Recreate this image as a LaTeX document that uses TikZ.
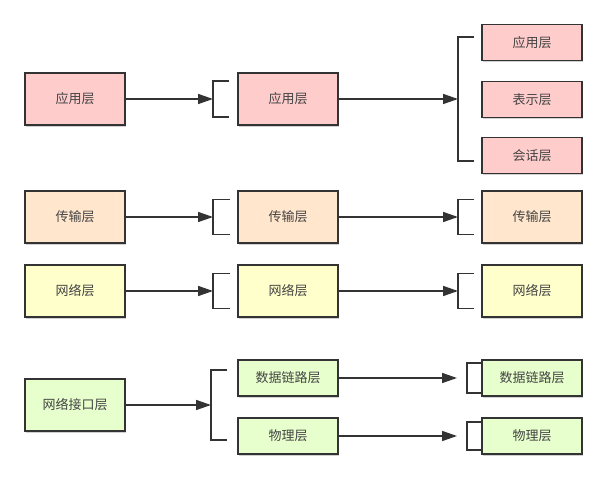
\documentclass[tikz,border=0pt]{standalone}
\usepackage{fontspec}
\newfontfamily\cjk{Noto Sans CJK SC}
\usetikzlibrary{arrows.meta,shadows}
\definecolor{ln}{HTML}{333333}
\definecolor{txt}{HTML}{444444}
\definecolor{cpink}{HTML}{FFCCCC}
\definecolor{cpeach}{HTML}{FFE6CC}
\definecolor{cyel}{HTML}{FFFFCC}
\definecolor{cgreen}{HTML}{E6FFCC}
\tikzset{
  box/.style={draw=ln, line width=1.5pt, minimum width=100pt, minimum height=52pt, inner sep=0pt,
    font=\cjk\fontsize{13}{15}\selectfont, text=txt,
    drop shadow={shadow xshift=0.8pt, shadow yshift=-1.8pt, fill=black, opacity=0.18}},
  sbox/.style={box, minimum height=36pt},
  arr/.style={draw=ln, line width=1.5pt, -{Triangle[length=15pt,width=10pt]}},
  brk/.style={draw=ln, line width=1.5pt}
}
\begin{document}
\begin{tikzpicture}[x=1pt,y=-1pt]
\useasboundingbox[fill=white] (0,0) rectangle (608,478);
% row 1
\node[box, fill=cpink] (L1) at (75,99) {应用层};
\node[box, fill=cpink] (M1) at (288,99) {应用层};
\node[sbox, fill=cpink] (R1a) at (532,42.5) {应用层};
\node[sbox, fill=cpink] (R1b) at (532,99.5) {表示层};
\node[sbox, fill=cpink] (R1c) at (532,155.5) {会话层};
\coordinate (k1) at (213,99);
\coordinate (k2) at (458,99);
\draw[brk] ([shift={(16,-18)}]k1) -| ([shift={(0,18)}]k1) -- ++(16,0);
\draw[brk] ([shift={(16,-62)}]k2) -| ([shift={(0,62)}]k2) -- ++(16,0);
\draw[arr] (L1.east) -- (k1);
\draw[arr] (M1.east) -- (k2);
% row 2
\node[box, fill=cpeach] (L2) at (75,217) {传输层};
\node[box, fill=cpeach] (M2) at (288,217) {传输层};
\node[box, fill=cpeach] (R2) at (532,217) {传输层};
\coordinate (k3) at (213,217);
\coordinate (k4) at (458,217);
\draw[brk] ([shift={(17,-17.5)}]k3) -| ([shift={(0,17.5)}]k3) -- ++(17,0);
\draw[brk] ([shift={(16,-17.5)}]k4) -| ([shift={(0,17.5)}]k4) -- ++(16,0);
\draw[arr] (L2.east) -- (k3);
\draw[arr] (M2.east) -- (k4);
% row 3
\node[box, fill=cyel] (L3) at (75,291) {网络层};
\node[box, fill=cyel] (M3) at (288,291) {网络层};
\node[box, fill=cyel] (R3) at (532,291) {网络层};
\coordinate (k5) at (213,291);
\coordinate (k6) at (458,291);
\draw[brk] ([shift={(17,-17.5)}]k5) -| ([shift={(0,17.5)}]k5) -- ++(17,0);
\draw[brk] ([shift={(16,-17.5)}]k6) -| ([shift={(0,17.5)}]k6) -- ++(16,0);
\draw[arr] (L3.east) -- (k5);
\draw[arr] (M3.east) -- (k6);
% row 4
\node[box, fill=cgreen] (L4) at (75,405) {网络接口层};
\node[sbox, fill=cgreen] (M4a) at (288,378) {数据链路层};
\node[sbox, fill=cgreen] (M4b) at (288,436) {物理层};
\node[sbox, fill=cgreen] (R4a) at (532,378) {数据链路层};
\node[sbox, fill=cgreen] (R4b) at (532,436) {物理层};
\coordinate (k7) at (211,405);
\coordinate (k8) at (467,378);
\coordinate (k9) at (467,436);
\draw[brk] ([shift={(16,-35)}]k7) -| ([shift={(0,35)}]k7) -- ++(16,0);
\draw[brk] ([shift={(15,-15)}]k8) -| ([shift={(0,15)}]k8) -- ++(15,0);
\draw[brk] ([shift={(15,-14)}]k9) -| ([shift={(0,14)}]k9) -- ++(15,0);
\draw[arr] (L4.east) -- (k7);
\draw[arr] (M4a.east) -- ([xshift=-10pt]k8);
\draw[arr] (M4b.east) -- ([xshift=-10pt]k9);
\end{tikzpicture}
\end{document}
